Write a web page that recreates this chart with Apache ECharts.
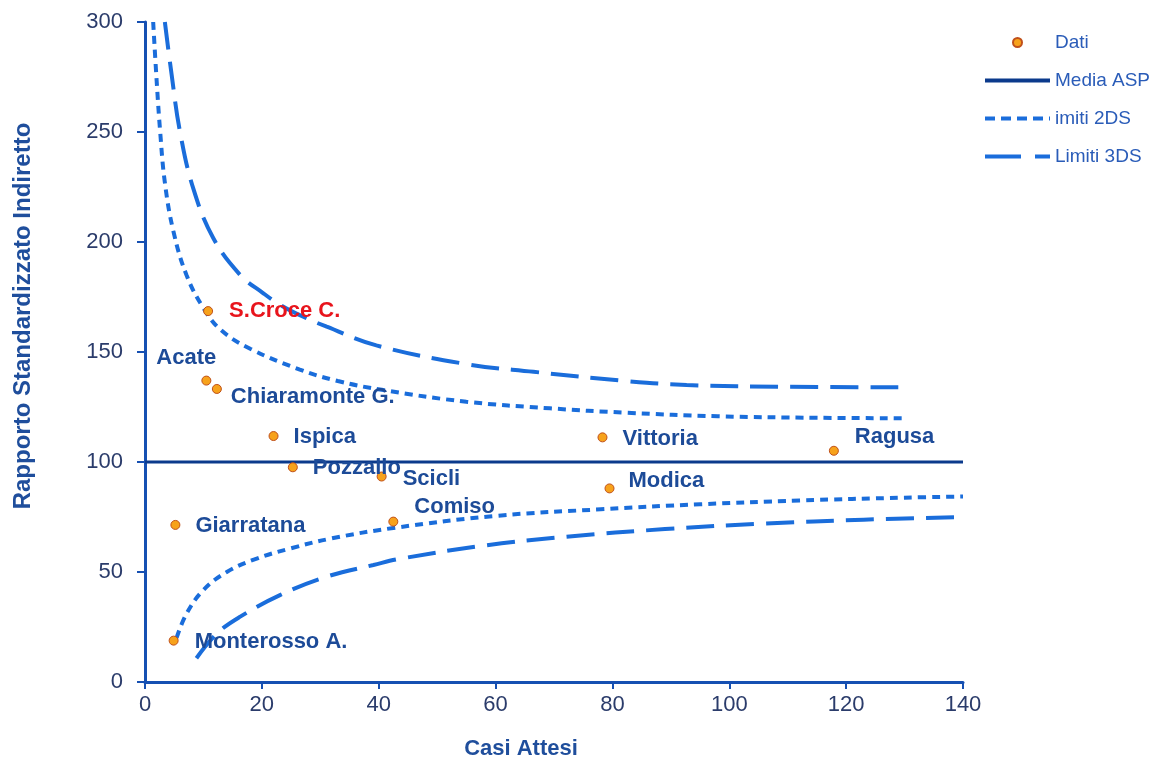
<!DOCTYPE html>
<html>
<head>
<meta charset="utf-8">
<script src="https://cdn.jsdelivr.net/npm/echarts@6/dist/echarts.min.js"></script>
<style>
html,body{margin:0;padding:0;background:#fff;}
#chart{width:1152px;height:762px;}
</style>
</head>
<body>
<div id="chart"></div>
<script>
// ---- data ----
const comuni = ['S.Croce C.','Acate','Chiaramonte G.','Ispica','Pozzallo','Scicli','Comiso','Giarratana','Monterosso A.','Vittoria','Ragusa','Modica'];
const casiAttesi = [10.8, 10.5, 12.3, 22.0, 25.3, 40.5, 42.5, 5.2, 4.9, 78.3, 117.9, 79.5];
const rsi = [168.6, 137.0, 133.2, 111.8, 97.6, 93.4, 72.9, 71.4, 18.8, 111.2, 105.1, 88.0];

const mediaX = [0, 140];
const mediaY = [100, 100];

const sup2X = [1.4, 2.0, 2.6, 3.4, 4.85, 7.1, 10, 13, 18, 26.5, 33, 40.8, 55, 69.3, 82.4, 98, 115, 130];
const sup2Y = [300, 273, 250, 227, 205, 185, 170, 160, 151.5, 142, 136.8, 132.7, 127.4, 124.4, 122.4, 120.8, 120.1, 119.9];
const inf2X = [5.4, 7.1, 10, 14, 19, 25, 32, 42.5, 60, 78, 95, 112, 130, 140];
const inf2Y = [20, 31, 41.8, 50, 56, 60.8, 65.3, 70, 75.5, 78.5, 80.8, 82.5, 83.8, 84.3];

const sup3X = [3.4, 4.56, 6, 8.3, 11.7, 16.3, 20.2, 23.1, 27.1, 31.1, 39.6, 55, 66.5, 82.4, 92.7, 110, 130];
const sup3Y = [300, 276, 250, 224, 201.7, 185, 176.8, 171.5, 166, 161.5, 153, 144.5, 141, 136.8, 135, 134.2, 134];
const inf3X = [8.8, 12.3, 16.3, 23.1, 31.1, 39.1, 43.6, 58, 72, 89, 106, 123, 140];
const inf3Y = [10.8, 22, 29.7, 39.5, 47.9, 53.2, 56, 62, 66, 69.5, 72, 73.8, 75];

const xTicks = [0, 20, 40, 60, 80, 100, 120, 140];
const yTicks = [0, 50, 100, 150, 200, 250, 300];

// ---- label placement (style only) ----
const labelOffsets = {
  'S.Croce C.': [21, 0], 'Acate': [-50, -23], 'Chiaramonte G.': [14, 8], 'Ispica': [20, 1],
  'Pozzallo': [20, 1], 'Scicli': [21, 2], 'Comiso': [21, -15], 'Giarratana': [20, 1],
  'Monterosso A.': [21, 1], 'Vittoria': [20, 2], 'Ragusa': [21, -14], 'Modica': [19, -7]
};

const zip = (a, b) => a.map((v, i) => [v, b[i]]);

const dashBlue = '#1a6ddb';
const scatterData = comuni.map((n, i) => ({
  name: n,
  value: [casiAttesi[i], rsi[i]],
  label: {
    show: true,
    formatter: n,
    position: 'inside',
    align: 'left',
    verticalAlign: 'middle',
    offset: labelOffsets[n],
    color: n === 'S.Croce C.' ? '#e8141c' : '#1d4b98',
    fontSize: 22,
    fontWeight: 'bold',
    fontFamily: 'Liberation Sans, Arial, sans-serif'
  }
}));

const hiddenDot = {color: 'rgba(0,0,0,0)', borderColor: 'rgba(0,0,0,0)', borderWidth: 0, opacity: 0};

const chart = echarts.init(document.getElementById('chart'), null, {renderer: 'canvas'});
chart.setOption({
  animation: false,
  backgroundColor: '#fff',
  grid: {left: 145, top: 22, right: 189, bottom: 80, containLabel: false, outerBoundsMode: 'none'},
  legend: {
    orient: 'vertical',
    left: 978,
    top: 28,
    itemWidth: 65,
    itemHeight: 9,
    itemGap: 19,
    textStyle: {color: '#2a5cb8', fontSize: 19, fontFamily: 'Liberation Sans, Arial, sans-serif'},
    data: [
      {name: 'Dati'},
      {name: 'Media ASP', itemStyle: hiddenDot, lineStyle: {width: 4}},
      {name: 'imiti 2DS', itemStyle: hiddenDot, lineStyle: {width: 4, type: [10, 6]}},
      {name: 'Limiti 3DS', itemStyle: hiddenDot, lineStyle: {width: 4, type: [36, 14]}}
    ]
  },
  xAxis: {
    type: 'value', min: 0, max: 140, interval: 20,
    name: 'Casi Attesi', nameLocation: 'middle', nameGap: 56,
    nameTextStyle: {color: '#1f4e9c', fontSize: 22, fontWeight: 'bold', fontFamily: 'Liberation Sans, Arial', padding: [0, 66, 0, 0]},
    axisLine: {lineStyle: {color: '#1650b2', width: 3}},
    axisTick: {show: true, length: 7, lineStyle: {color: '#1650b2', width: 2}},
    axisLabel: {color: '#2b3c6b', fontSize: 22, margin: 12, fontFamily: 'Liberation Sans, Arial',
      formatter: v => xTicks.includes(v) ? String(v) : ''},
    splitLine: {show: false}
  },
  yAxis: {
    type: 'value', min: 0, max: 300, interval: 50,
    name: 'Rapporto Standardizzato Indiretto', nameLocation: 'middle', nameGap: 110, nameRotate: 90,
    nameTextStyle: {color: '#1f4e9c', fontSize: 24, fontWeight: 'bold', fontFamily: 'Liberation Sans, Arial', padding: [0, 0, 0, 72]},
    axisLine: {show: true, lineStyle: {color: '#1650b2', width: 3}},
    axisTick: {show: true, length: 8, lineStyle: {color: '#1650b2', width: 2}},
    axisLabel: {color: '#2b3c6b', fontSize: 22, margin: 22, fontFamily: 'Liberation Sans, Arial',
      formatter: v => yTicks.includes(v) ? String(v) : ''},
    splitLine: {show: false}
  },
  series: [
    {
      name: 'Media ASP', type: 'line', data: zip(mediaX, mediaY), symbol: 'none',
      lineStyle: {color: '#0b3a8c', width: 3}, itemStyle: {color: '#0b3a8c'}, z: 2
    },
    {
      name: 'imiti 2DS', type: 'line', data: zip(sup2X, sup2Y), symbol: 'none', smooth: 0.4,
      lineStyle: {color: dashBlue, width: 4, type: [8, 6]}, itemStyle: {color: dashBlue}, z: 2
    },
    {
      name: 'imiti 2DS', type: 'line', data: zip(inf2X, inf2Y), symbol: 'none', smooth: 0.4,
      lineStyle: {color: dashBlue, width: 4, type: [8, 6]}, itemStyle: {color: dashBlue}, z: 2
    },
    {
      name: 'Limiti 3DS', type: 'line', data: zip(sup3X, sup3Y), symbol: 'none', smooth: 0.4,
      lineStyle: {color: dashBlue, width: 4, type: [28, 12]}, itemStyle: {color: dashBlue}, z: 2
    },
    {
      name: 'Limiti 3DS', type: 'line', data: zip(inf3X, inf3Y), symbol: 'none', smooth: 0.4,
      lineStyle: {color: dashBlue, width: 4, type: [28, 12]}, itemStyle: {color: dashBlue}, z: 2
    },
    {
      name: 'Dati', type: 'scatter', data: scatterData, symbol: 'circle', symbolSize: 9,
      itemStyle: {color: '#f7a21b', borderColor: '#c0501a', borderWidth: 1, opacity: 1}, z: 5
    }
  ]
});
</script>
</body>
</html>
